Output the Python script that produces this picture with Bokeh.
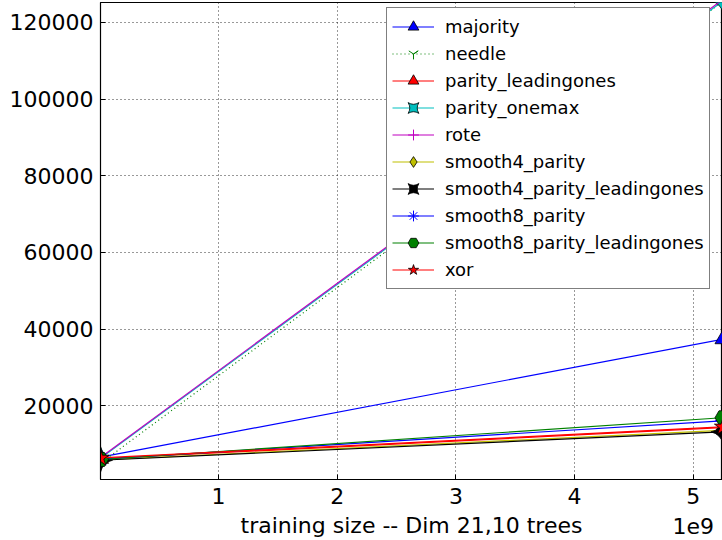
from bokeh.plotting import figure
from bokeh.models import (Range1d, FixedTicker, CustomJSTickFormatter, Legend,
                          LegendItem, BasicTickFormatter)
from bokeh.embed import file_html
from bokeh.resources import INLINE
import numpy as np

# ---- data ----
x_sizes = [6.0e6, 5.25e9]
majority = [6600, 37400]
needle = [5000, 125500]
parity_leadingones = [6200, 14300]
parity_onemax = [6300, 125600]
rote = [6500, 126000]
smooth4_parity = [5900, 13600]
smooth4_parity_leadingones = [5800, 13200]
smooth8_parity = [6100, 16100]
smooth8_parity_leadingones = [6000, 16900]
xor = [6400, 14500]

series = [
    ("majority", majority),
    ("needle", needle),
    ("parity_leadingones", parity_leadingones),
    ("parity_onemax", parity_onemax),
    ("rote", rote),
    ("smooth4_parity", smooth4_parity),
    ("smooth4_parity_leadingones", smooth4_parity_leadingones),
    ("smooth8_parity", smooth8_parity),
    ("smooth8_parity_leadingones", smooth8_parity_leadingones),
    ("xor", xor),
]
x_ticks = [1e9, 2e9, 3e9, 4e9, 5e9]
y_ticks = [20000, 40000, 60000, 80000, 100000, 120000]
x_label = "training size -- Dim 21,10 trees"
x_offset_text = "1e9"

styles = {
    "majority": dict(color="#0000ff", marker="triangle", dash="solid", angle=0, size=16),
    "needle": dict(color="#008000", marker="y", dash="1 3", angle=0, size=16),
    "parity_leadingones": dict(color="#ff0000", marker="triangle", dash="solid", angle=0, size=16),
    "parity_onemax": dict(color="#00bfbf", marker="square_pin", dash="solid", angle=np.pi / 4, size=17),
    "rote": dict(color="#bf00bf", marker="cross", dash="solid", angle=0, size=18),
    "smooth4_parity": dict(color="#bfbf00", marker="diamond", dash="solid", angle=0, size=18),
    "smooth4_parity_leadingones": dict(color="#000000", marker="square_pin", dash="solid", angle=np.pi / 4, size=17),
    "smooth8_parity": dict(color="#0000ff", marker="asterisk", dash="solid", angle=0, size=16),
    "smooth8_parity_leadingones": dict(color="#008000", marker="hex", dash="solid", angle=0, size=16),
    "xor": dict(color="#ff0000", marker="star", dash="solid", angle=0, size=18),
}

FONT = "DejaVu Sans"
Y0, Y1 = 780, 125200
X0, X1 = 6.0e6, 5.246e9

p = figure(width=722, height=540, output_backend="svg", toolbar_location=None,
           x_range=Range1d(X0, X1), y_range=Range1d(Y0, Y1),
           min_border_left=100, min_border_top=2, min_border_right=0,
           min_border_bottom=59)

p.background_fill_color = "white"
p.border_fill_color = "white"
p.outline_line_color = "black"
p.outline_line_width = 1.2

items = []
for name, ys in series:
    st = styles[name]
    lr = p.line(x_sizes, ys, line_color=st["color"], line_width=1.2,
                line_dash=st["dash"])
    filled = st["marker"] not in ("y", "cross", "asterisk")
    if filled:
        sr = p.scatter(x_sizes, ys, marker=st["marker"], size=st["size"],
                       angle=st["angle"], fill_color=st["color"],
                       line_color="black", line_width=0.8)
    else:
        sr = p.scatter(x_sizes, ys, marker=st["marker"], size=st["size"],
                       angle=st["angle"], fill_color=None,
                       line_color=st["color"], line_width=1.0)
    items.append(LegendItem(label=name, renderers=[lr, sr]))

# axes
xa = p.xaxis[0]
xa.ticker = FixedTicker(ticks=x_ticks)
xa.formatter = CustomJSTickFormatter(
    args=dict(last=x_ticks[-1], off=x_offset_text),
    code="var s = (tick/1e9).toFixed(0); return tick == last ? s + '\\n' + off : s;")
xa.axis_label = x_label
ya = p.yaxis[0]
ya.ticker = FixedTicker(ticks=y_ticks)
ya.formatter = BasicTickFormatter(use_scientific=False)
for ax in (xa, ya):
    ax.major_label_text_font = FONT
    ax.major_label_text_font_size = "22px"
    ax.major_label_text_color = "black"
    ax.axis_label_text_font = FONT
    ax.axis_label_text_font_size = "22px"
    ax.axis_label_text_font_style = "normal"
    ax.axis_label_text_color = "black"
    ax.major_tick_in = 5
    ax.major_tick_out = 0
    ax.major_tick_line_color = "black"
    ax.minor_tick_line_color = None
    ax.axis_line_color = "black"
    ax.major_label_standoff = 7
xa.major_label_standoff = 4
xa.axis_label_standoff = -29

for g, t in ((p.xgrid[0], x_ticks), (p.ygrid[0], y_ticks)):
    g.ticker = FixedTicker(ticks=t)
    g.grid_line_color = "black"
    g.grid_line_dash = "1 3"
    g.grid_line_width = 1
    g.grid_line_alpha = 0.8

legend = Legend(items=items, location=(286, 190))
legend.label_text_font = FONT
legend.label_text_font_size = "18px"
legend.label_text_color = "black"
legend.glyph_width = 42
legend.glyph_height = 27
legend.label_height = 27
legend.spacing = 0
legend.label_standoff = 11
legend.padding = 5
legend.margin = 0
legend.border_line_color = "black"
legend.border_line_width = 1.2
legend.background_fill_alpha = 1
p.add_layout(legend, "center")

open("out.html", "w").write(file_html(p, INLINE))
